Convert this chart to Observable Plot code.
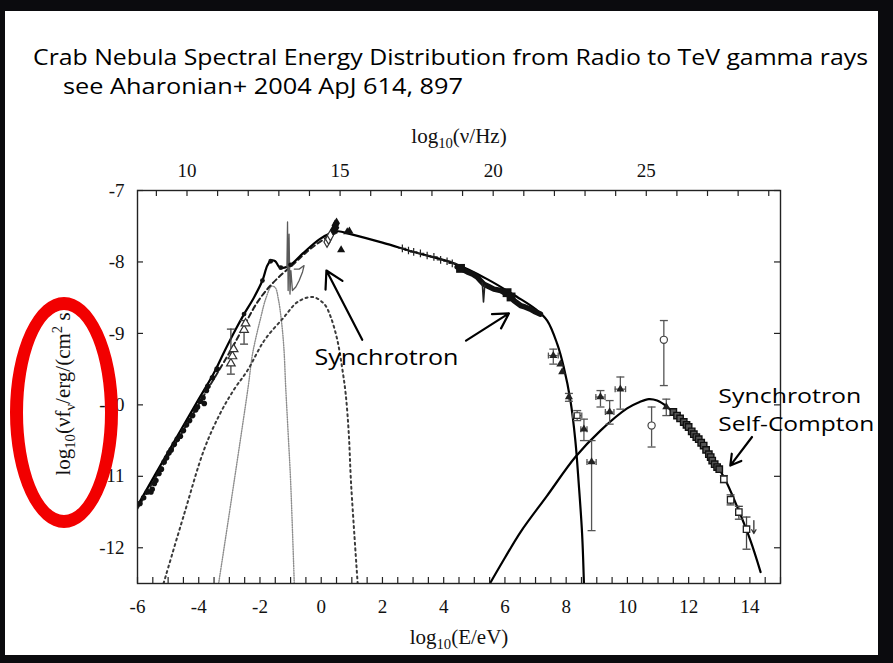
<!DOCTYPE html>
<html><head><meta charset="utf-8">
<script src="https://cdn.jsdelivr.net/npm/d3@7"></script>
<script src="https://cdn.jsdelivr.net/npm/@observablehq/plot@0.6"></script>
<style>
html,body{margin:0;padding:0;background:#0b0b0e;color:#000;}
#wrap{position:relative;width:893px;height:663px;overflow:hidden;background:#0b0b0e;}
#panel{position:absolute;left:5px;top:11px;width:873px;height:644px;background:#fff;}
#chart{position:absolute;left:0;top:0;}
#title{position:absolute;left:0;top:0;}
#ring{position:absolute;left:10px;top:297px;width:108px;height:231px;box-sizing:border-box;border:13px solid #f20000;border-radius:50%;}
</style></head><body>
<div id="wrap">
  <div id="panel"></div>
  <div id="chart"></div>
  <svg id="title" width="893" height="110">
    <text x="33" y="65" font-family="'Comic Sans MS','Open Sans',sans-serif" font-size="21" textLength="835" lengthAdjust="spacingAndGlyphs">Crab Nebula Spectral Energy Distribution from Radio to TeV gamma rays</text>
    <text x="63" y="94" font-family="'Comic Sans MS','Open Sans',sans-serif" font-size="21" textLength="400" lengthAdjust="spacingAndGlyphs">see Aharonian+ 2004 ApJ 614, 897</text>
  </svg>
  <div id="ring"></div>
</div>
<script>
// ---------- axis ticks / labels ----------
const NU_PER_EV = 14.3835;              // log10(Hz per eV)
const eLabels = [-6, -4, -2, 0, 2, 4, 6, 8, 10, 12, 14];
const eTicks = d3.range(-6, 15.01, 0.5);
const nuLabels = [10, 15, 20, 25];
const nuTicks = d3.range(9, 30, 1);
const yLabels = [-7, -8, -9, -10, -11, -12];

// ---------- model curves [log10(E/eV), log10(nuF_nu)] ----------
const totalSynch = [[-6,-11.41],[-5,-10.66],[-4,-9.92],[-3.5,-9.55],[-3.17,-9.26],[-2.8,-8.95],[-2.52,-8.73],[-2.2,-8.5],[-1.92,-8.26],[-1.76,-8.05],[-1.64,-7.98],[-1.5,-7.99],[-1.37,-8.07],[-1.2,-8.08],[-1.0,-8.04],[-0.6,-7.88],[-0.05,-7.68],[0.3,-7.6],[0.55,-7.57],[0.96,-7.61],[2.0,-7.73],[3.02,-7.86],[4.33,-8.02],[5.42,-8.24],[6.4,-8.49],[7.0,-8.66],[7.38,-8.82],[7.71,-9.15],[7.92,-9.47],[8.14,-9.94],[8.3,-10.5],[8.41,-11.1],[8.52,-11.8],[8.58,-12.5]];
const synchOnly = [[-6,-11.45],[-5,-10.72],[-4,-9.99],[-3,-9.27],[-2.5,-8.88],[-2.14,-8.6],[-1.8,-8.4],[-1.43,-8.23],[-0.88,-8.02],[-0.5,-7.87],[-0.12,-7.74],[0.26,-7.64],[0.55,-7.58]];
const dustComp = [[-3.35,-12.5],[-2.84,-11.06],[-2.38,-9.73],[-2.24,-9.28],[-1.97,-8.77],[-1.8,-8.5],[-1.62,-8.34],[-1.5,-8.36],[-1.4,-8.52],[-1.3,-8.82],[-1.22,-9.2],[-1.16,-9.75],[-1.08,-10.4],[-1.0,-11.06],[-0.88,-12.5]];
const wideComp = [[-5.15,-12.5],[-4.47,-11.52],[-3.82,-10.62],[-3.3,-10.12],[-2.84,-9.78],[-2.41,-9.52],[-1.86,-9.1],[-1.21,-8.77],[-0.77,-8.56],[-0.28,-8.49],[0.1,-8.59],[0.31,-8.77],[0.53,-9.1],[0.69,-9.5],[0.8,-9.85],[0.9,-10.4],[0.97,-11.06],[1.08,-11.8],[1.19,-12.5]];
const icCurve = [[5.51,-12.5],[6.0,-12.14],[6.51,-11.78],[7.38,-11.27],[8.3,-10.73],[9.12,-10.36],[9.99,-10.05],[10.4,-9.96],[10.7,-9.92],[10.97,-9.94],[11.3,-10.03],[11.95,-10.31],[12.61,-10.64],[13.15,-11.01],[13.59,-11.43],[14.02,-11.9],[14.35,-12.34]];

// ---------- data points ----------
const radioPts = [[-5.92,-11.38],[-5.8,-11.3],[-5.68,-11.22],[-5.56,-11.22],[-5.52,-11.18],[-5.45,-11.1],[-5.4,-11.06],[-5.3,-10.96],[-5.22,-10.9],[-5.13,-10.8],[-5.05,-10.74],[-4.97,-10.67],[-4.9,-10.63],[-4.8,-10.55],[-4.7,-10.48],[-4.6,-10.44],[-4.5,-10.36],[-4.4,-10.28],[-4.3,-10.22],[-4.2,-10.15],[-4.1,-10.07],[-4.04,-10.03],[-3.95,-9.95],[-3.86,-9.9],[-3.82,-9.98],[-3.75,-9.8],[-3.7,-9.74],[-3.55,-9.62],[-3.4,-9.5]];
const irPts = [{x:-2.95,y:-9.42,ylo:-9.57,yhi:-8.94},{x:-2.9,y:-9.32},{x:-2.86,y:-9.22},{x:-2.52,y:-8.95,ylo:-9.15,yhi:-8.82},{x:-2.47,y:-8.86}];
const bumpPts = [[-2.52,-8.73],[-1.92,-8.26],[-1.65,-7.99],[-1.32,-8.08],[-1.0,-8.04]];
const isoSpec = [[-1.12,-8.07],[-1.1,-7.44],[-1.08,-8.4],[-1.05,-7.61],[-1.02,-8.45],[-0.99,-8.12],[-0.94,-8.4],[-0.83,-8.35],[-0.72,-8.26],[-0.61,-8.14],[-0.56,-8.05],[-0.72,-8.1],[-0.88,-8.1]];
const optOpen = [[0.19,-7.72],[0.24,-7.68],[0.3,-7.63]];
const optFilled = [[0.4,-7.55],[0.45,-7.49],[0.5,-7.46],[0.48,-7.52]];
const uvTri = [[0.85,-7.58],[0.92,-7.57],[0.65,-7.83]];
const xrayMarks = [[2.65,-7.81],[2.85,-7.84],[3.02,-7.86],[3.24,-7.88],[3.46,-7.91],[3.68,-7.93],[3.9,-7.97],[4.11,-7.99],[4.28,-8.02]];
const xrayBand = [[4.44,-8.07],[4.6,-8.1],[4.77,-8.14],[4.95,-8.17],[5.09,-8.21],[5.2,-8.26],[5.31,-8.31],[5.45,-8.34],[5.64,-8.38],[5.86,-8.4],[6.07,-8.45],[6.18,-8.48],[6.29,-8.54],[6.51,-8.61],[6.65,-8.63],[6.83,-8.66],[7.0,-8.7],[7.16,-8.73]];
const xraySpike = [[5.26,-8.29],[5.3,-8.56],[5.34,-8.33]];
const xrayBlobs = [[4.55,-8.09],[6.07,-8.43],[6.2,-8.49]];
const gammaPts = [
  {x:7.58,y:-9.31,ylo:-9.43,yhi:-9.22,xerr:0.16,m:"tri"},
  {x:7.81,y:-9.43,m:"tri"},
  {x:7.87,y:-9.54,m:"tri"},
  {x:8.09,y:-9.89,ylo:-9.95,yhi:-9.84,m:"tri"},
  {x:8.36,y:-10.15,ylo:-10.22,yhi:-10.08,xerr:0.15,m:"sq"},
  {x:8.58,y:-10.34,ylo:-10.5,yhi:-10.2,xerr:0.1,m:"tri"},
  {x:8.83,y:-10.8,ylo:-11.76,yhi:-10.5,xerr:0.15,m:"tri"},
  {x:9.12,y:-9.89,ylo:-10.03,yhi:-9.8,xerr:0.15,m:"tri"},
  {x:9.42,y:-10.1,ylo:-10.27,yhi:-9.94,xerr:0.14,m:"tri"},
  {x:9.77,y:-9.78,ylo:-10.06,yhi:-9.61,xerr:0.17,m:"tri"},
  {x:11.19,y:-9.09,ylo:-9.73,yhi:-8.82,m:"circ"},
  {x:10.79,y:-10.29,ylo:-10.59,yhi:-10.03,m:"circ"},
  {x:11.27,y:-10.03,ylo:-10.15,yhi:-9.92,m:"tri"}
];
const tevDense = [[11.5,-10.1],[11.62,-10.15],[11.72,-10.19],[11.84,-10.24],[11.93,-10.28],[12.0,-10.31],[12.1,-10.37],[12.17,-10.41],[12.25,-10.45],[12.33,-10.48],[12.41,-10.53],[12.49,-10.57],[12.57,-10.63],[12.66,-10.69],[12.72,-10.73],[12.77,-10.78],[12.85,-10.83],[12.93,-10.87],[13.0,-10.9]];
const tevSparse = [{x:13.15,y:-11.04,ylo:-11.09,yhi:-10.99},{x:13.37,y:-11.33,ylo:-11.4,yhi:-11.26},{x:13.64,y:-11.5,ylo:-11.6,yhi:-11.42},{x:13.89,y:-11.74,ylo:-12.02,yhi:-11.57}];
const upperLimit = [{x:14.13,y1:-11.62,y2:-11.8}];

// ---------- annotations ----------
const labelSynch = [{x:2.13,y:-9.35,text:"Synchrotron"}];
const labelSSC = [{x:12.97,y:-9.88,text:"Synchrotron"},{x:12.97,y:-10.28,text:"Self-Compton"}];
const arrows = [
  {x1:1.34,y1:-9.09,x2:0.17,y2:-8.12},
  {x1:4.73,y1:-9.1,x2:6.13,y2:-8.72},
  {x1:14.07,y1:-10.45,x2:13.36,y2:-10.85}
];

const X = d => d[0], Y = d => d[1];
const hbar = {draw(ctx, size){ const r = Math.sqrt(size/Math.PI); ctx.moveTo(-r,0); ctx.lineTo(r,0); }};
const vbar = {draw(ctx, size){ const r = Math.sqrt(size/Math.PI); ctx.moveTo(0,-r); ctx.lineTo(0,r); }};
const withY = gammaPts.filter(d => d.ylo != null);
const withX = gammaPts.filter(d => d.xerr != null);
const serif = "'Liberation Serif','Times New Roman',serif";
const comic = "'Comic Sans MS','Open Sans',sans-serif";

const chart = Plot.plot({
  width: 893, height: 663,
  marginTop: 190, marginRight: 113, marginBottom: 80, marginLeft: 137,
  x: {domain: [-6, 15], axis: null},
  y: {domain: [-12.5, -7], axis: null},
  style: {background: "transparent", fontFamily: serif, color: "#000", overflow: "visible"},
  marks: [
    // model components
    Plot.line(dustComp, {x: X, y: Y, stroke: "#8c8c8c", strokeWidth: 1.4, strokeDasharray: "1,1.4", curve: "catmull-rom", clip: true}),
    Plot.line(wideComp, {x: X, y: Y, stroke: "#3a3a3a", strokeWidth: 2, strokeDasharray: "2,3.6", curve: "catmull-rom", clip: true}),
    Plot.line(synchOnly, {x: X, y: Y, stroke: "#222", strokeWidth: 2, strokeDasharray: "5,3.5", curve: "catmull-rom", clip: true}),
    Plot.line(totalSynch, {x: X, y: Y, stroke: "#000", strokeWidth: 2.2, curve: "catmull-rom", clip: true}),
    Plot.line(icCurve, {x: X, y: Y, stroke: "#000", strokeWidth: 2.2, curve: "catmull-rom", clip: true}),
    // ISO spectrum
    Plot.line(isoSpec, {x: X, y: Y, stroke: "#5a5a5a", strokeWidth: 1.3}),
    // radio / IR
    Plot.dot(radioPts, {x: X, y: Y, r: 2.8, fill: "#111"}),
    Plot.ruleX(irPts.filter(d => d.ylo != null), {x: "x", y1: "ylo", y2: "yhi", stroke: "#444", strokeWidth: 1.3}),
    Plot.dot(irPts.filter(d => d.ylo != null), {x: "x", y: "ylo", symbol: hbar, r: 4, stroke: "#444", strokeWidth: 1.3}),
    Plot.dot(irPts.filter(d => d.ylo != null), {x: "x", y: "yhi", symbol: hbar, r: 4, stroke: "#444", strokeWidth: 1.3}),
    Plot.dot(irPts, {x: "x", y: "y", symbol: "triangle", r: 3.2, stroke: "#333", fill: "white", strokeWidth: 1.2}),
    Plot.dot(bumpPts, {x: X, y: Y, r: 2.4, fill: "#111"}),
    // optical / UV
    Plot.dot(optOpen, {x: X, y: Y, symbol: "diamond", r: 3.2, stroke: "#333", fill: "white", strokeWidth: 1.2}),
    Plot.dot(optFilled, {x: X, y: Y, symbol: "diamond", r: 3.6, fill: "#111"}),
    Plot.dot(uvTri, {x: X, y: Y, symbol: "triangle", r: 3, fill: "#111"}),
    // X-rays
    Plot.dot(xrayMarks, {x: X, y: Y, symbol: "plus", r: 2.6, stroke: "#222", strokeWidth: 1.2}),
    Plot.line(xrayBand, {x: X, y: Y, stroke: "#111", strokeWidth: 5.5}),
    Plot.line(xraySpike, {x: X, y: Y, stroke: "#222", strokeWidth: 1.6}),
    Plot.dot(xrayBlobs, {x: X, y: Y, symbol: "square", r: 5, fill: "#111"}),
    // gamma rays
    Plot.ruleX(withY, {x: "x", y1: "ylo", y2: "yhi", stroke: "#555", strokeWidth: 1.3}),
    Plot.dot(withY, {x: "x", y: "ylo", symbol: hbar, r: 4, stroke: "#555", strokeWidth: 1.3}),
    Plot.dot(withY, {x: "x", y: "yhi", symbol: hbar, r: 4, stroke: "#555", strokeWidth: 1.3}),
    Plot.ruleY(withX, {y: "y", x1: d => d.x - d.xerr, x2: d => d.x + d.xerr, stroke: "#555", strokeWidth: 1.3}),
    Plot.dot(withX, {x: d => d.x - d.xerr, y: "y", symbol: vbar, r: 3, stroke: "#555", strokeWidth: 1.3}),
    Plot.dot(withX, {x: d => d.x + d.xerr, y: "y", symbol: vbar, r: 3, stroke: "#555", strokeWidth: 1.3}),
    Plot.dot(gammaPts.filter(d => d.m === "tri"), {x: "x", y: "y", symbol: "triangle", r: 3, fill: "#222"}),
    Plot.dot(gammaPts.filter(d => d.m === "sq"), {x: "x", y: "y", symbol: "square", r: 3.2, stroke: "#333", fill: "white", strokeWidth: 1.2}),
    Plot.dot(gammaPts.filter(d => d.m === "circ"), {x: "x", y: "y", symbol: "circle", r: 3.6, stroke: "#444", fill: "white", strokeWidth: 1.2}),
    // TeV
    Plot.dot(tevDense, {x: X, y: Y, symbol: "square", r: 3.6, stroke: "#111", fill: "#555", strokeWidth: 1.4}),
    Plot.ruleX(tevSparse, {x: "x", y1: "ylo", y2: "yhi", stroke: "#444", strokeWidth: 1.3}),
    Plot.dot(tevSparse, {x: "x", y: "ylo", symbol: hbar, r: 4, stroke: "#444", strokeWidth: 1.3}),
    Plot.dot(tevSparse, {x: "x", y: "yhi", symbol: hbar, r: 4, stroke: "#444", strokeWidth: 1.3}),
    Plot.dot(tevSparse, {x: "x", y: "y", symbol: "square", r: 3.6, stroke: "#222", fill: "white", strokeWidth: 1.3}),
    Plot.arrow(upperLimit, {x: "x", y1: "y1", y2: "y2", stroke: "#333", strokeWidth: 1.3, headLength: 5}),
    // frame & ticks
    Plot.frame({stroke: "#222", strokeWidth: 1.4}),
    Plot.tickX(eTicks, {x: d => d, insetTop: 387, stroke: "#222", strokeWidth: 1.2}),
    Plot.tickX(nuTicks, {x: d => d - NU_PER_EV, insetBottom: 387, stroke: "#222", strokeWidth: 1.2}),
    Plot.tickY(yLabels, {y: d => d, insetRight: 637, stroke: "#222", strokeWidth: 1.2}),
    Plot.tickY(yLabels, {y: d => d, insetLeft: 637, stroke: "#222", strokeWidth: 1.2}),
    // tick labels
    Plot.text(eLabels, {x: d => d, frameAnchor: "bottom", lineAnchor: "middle", dy: 23, text: d => String(d), fontSize: 19, fontFamily: serif, fill: "#111"}),
    Plot.text(nuLabels, {x: d => d - NU_PER_EV, frameAnchor: "top", lineAnchor: "middle", dy: -20, text: d => String(d), fontSize: 19, fontFamily: serif, fill: "#111"}),
    Plot.text(yLabels, {y: d => d, frameAnchor: "left", lineAnchor: "middle", dx: -13, textAnchor: "end", text: d => String(d), fontSize: 19, fontFamily: serif, fill: "#111"}),
    // axis titles
    Plot.text(["log10(E/eV)"], {frameAnchor: "bottom", lineAnchor: "middle", dy: 54, text: d => d, fontSize: 21, fontFamily: serif, fill: "#111"}),
    Plot.text(["log10(nu/Hz)"], {frameAnchor: "top", lineAnchor: "middle", dy: -54, text: d => d, fontSize: 21, fontFamily: serif, fill: "#111"}),
    Plot.text(["log10(nufnu/erg/(cm2 s))"], {frameAnchor: "left", textAnchor: "middle", lineAnchor: "middle", dx: -74, rotate: -90, text: d => d, fontSize: 21, fontFamily: serif, fill: "#111"}),
    // annotations
    Plot.arrow(arrows, {x1: "x1", y1: "y1", x2: "x2", y2: "y2", stroke: "#000", strokeWidth: 2.2, headLength: 13}),
    Plot.text(labelSynch, {x: "x", y: "y", text: "text", textAnchor: "middle", fontSize: 22, fontFamily: comic, fill: "#000"}),
    Plot.text(labelSSC, {x: "x", y: "y", text: "text", textAnchor: "start", fontSize: 20, fontFamily: comic, fill: "#000"})
  ]
});
document.getElementById("chart").appendChild(chart);

// rich text for axis titles (subscripts / superscripts)
function rich(node, parts) {
  const t = d3.select(node); t.text("");
  let shift = 0;
  for (const [s, k] of parts) {
    const target = k === "sub" ? 5 : k === "sup" ? -8 : 0;
    const ts = t.append("tspan").text(s);
    if (target - shift !== 0) ts.attr("dy", target - shift);
    if (k !== "n") ts.attr("font-size", "0.7em");
    shift = target;
  }
}
const svg = d3.select(chart.tagName.toLowerCase() === "svg" ? chart : chart.querySelector("svg"));
svg.selectAll("text").each(function() {
  const s = this.textContent;
  if (s === "log10(E/eV)") rich(this, [["log","n"],["10","sub"],["(E/eV)","n"]]);
  else if (s === "log10(nu/Hz)") rich(this, [["log","n"],["10","sub"],["(\u03BD/Hz)","n"]]);
  else if (s === "log10(nufnu/erg/(cm2 s))") rich(this, [["log","n"],["10","sub"],["(\u03BDf","n"],["\u03BD","sub"],["/erg/(cm","n"],["2","sup"],[" s))","n"]]);
});
const widths = [144, 143, 156];
svg.selectAll("text").filter(function(){ return this.textContent === "Synchrotron" || this.textContent === "Self-Compton"; })
  .each(function(d, i) { d3.select(this).attr("textLength", widths[i] || 144).attr("lengthAdjust", "spacingAndGlyphs"); });
</script>
</body></html>
